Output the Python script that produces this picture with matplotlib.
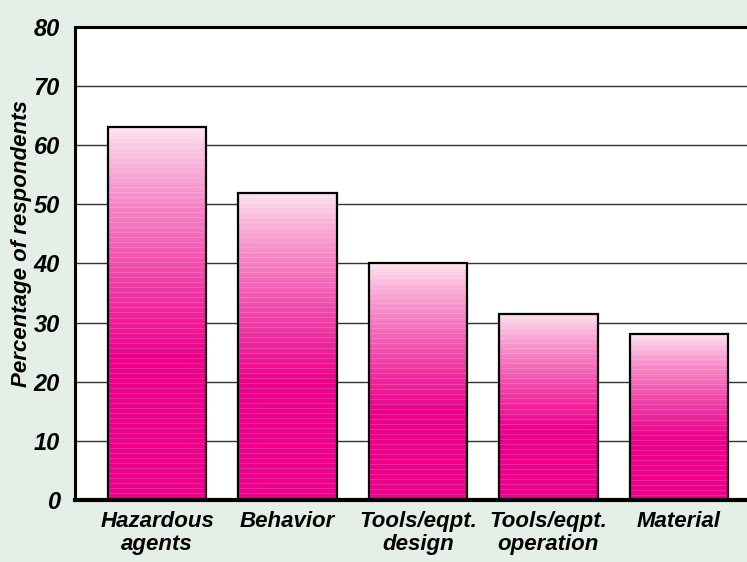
import numpy as np
import matplotlib
matplotlib.use("Agg")
import matplotlib.pyplot as plt
from matplotlib.colors import to_rgb

categories = ["Hazardous\nagents", "Behavior", "Tools/eqpt.\ndesign", "Tools/eqpt.\noperation", "Material"]
values = [63, 52, 40, 31.5, 28]
yticks = [0, 10, 20, 30, 40, 50, 60, 70, 80]
ylabel = "Percentage of respondents"

BG = "#e4f0e7"
LIGHT = np.array(to_rgb("#fde9f1"))
DARK = np.array(to_rgb("#ec008c"))

fig = plt.figure(figsize=(7.47, 5.62), dpi=100, facecolor=BG)
ax = fig.add_axes([0.1004, 0.1103, 0.9096, 0.8417])
ax.set_facecolor("white")

x = np.arange(len(categories))
width = 0.754
bars = ax.bar(x, values, width=width, facecolor="none", edgecolor="black", linewidth=1.6, zorder=3)

px_per_unit = 5.9
for b, v in zip(bars, values):
    n = max(int(round(v * px_per_unit)), 2)
    rows = np.arange(n)
    t = rows / (n - 1)
    s = np.clip(t / 0.62, 0, 1) ** 0.8
    col = LIGHT[None, :] * (1 - s[:, None]) + DARK[None, :] * s[:, None]
    stripe = (rows % 5) == 0
    col[stripe] = col[stripe] * 0.85 + 0.15
    arr = np.repeat(col[:, None, :], 4, axis=1)
    x0 = b.get_x()
    im = ax.imshow(arr, extent=[x0, x0 + b.get_width(), 0, v], aspect="auto",
                   interpolation="nearest", zorder=2)
    im.set_clip_path(b)

ax.set_xlim(-0.63, 4.58)
ax.set_ylim(0, 80)
ax.set_yticks(yticks)
ax.set_yticklabels([str(t) for t in yticks])
ax.yaxis.grid(True, color="#333333", linewidth=1.0, zorder=1)
ax.set_axisbelow(True)

fam = ["Liberation Sans", "DejaVu Sans"]
font = dict(family=fam, style="italic", weight="bold")
ax.set_xticks(x)
ax.set_xticklabels(categories, fontsize=16, linespacing=1.1, **font)
for lbl in ax.get_yticklabels():
    lbl.set_fontsize(17)
    lbl.set_family(fam)
    lbl.set_style("italic")
    lbl.set_weight("bold")
ax.tick_params(axis="both", length=0)
ax.tick_params(axis="y", pad=11)
ax.tick_params(axis="x", pad=8)

ax.set_ylabel(ylabel, fontsize=16, **font)
ax.yaxis.set_label_coords(-0.063, 0.542)

for side in ["left", "top"]:
    ax.spines[side].set_linewidth(2.2)
    ax.spines[side].set_color("black")
ax.spines["bottom"].set_linewidth(3.0)
ax.spines["bottom"].set_color("black")
ax.spines["right"].set_visible(False)

fig.savefig("out.png", dpi=100, facecolor=BG)
